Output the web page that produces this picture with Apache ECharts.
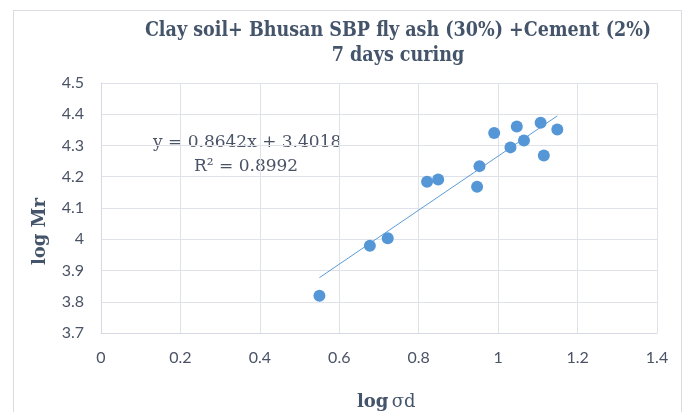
<!DOCTYPE html>
<html>
<head>
<meta charset="utf-8">
<script src="https://cdn.jsdelivr.net/npm/echarts@6/dist/echarts.min.js"></script>
<style>
  html, body { margin: 0; padding: 0; background: #fff; }
  #main { width: 686px; height: 412px; }
</style>
</head>
<body>
<div id="main"></div>
<script>
// log σd values (x)
const logSd = [0.550, 0.677, 0.722, 0.821, 0.849, 0.947, 0.953, 0.990, 1.031, 1.047, 1.065, 1.107, 1.115, 1.149];
// log Mr values (y)
const logMr = [3.819, 3.979, 4.003, 4.184, 4.191, 4.168, 4.234, 4.340, 4.294, 4.361, 4.316, 4.373, 4.268, 4.351];
// trendline from the shown equation
const slope = 0.8642;
const intercept = 3.4018;
const rSquared = 0.8992;

const xTicks = [0, 1.4, 0.2];   // min, max, interval
const yTicks = [3.7, 4.5, 0.1];

const points = logSd.map((x, i) => [x, logMr[i]]);
const xMin = Math.min(...logSd);
const xMax = Math.max(...logSd);
const trend = [[xMin, slope * xMin + intercept], [xMax, slope * xMax + intercept]];

const labelColor = '#4a5366';
const titleColor = '#44546a';
const gridColor = '#e0e2ea';
const serif = '"DejaVu Serif", serif';

const chart = echarts.init(document.getElementById('main'));
chart.setOption({
    animation: false,
    title: {
        text: 'Clay soil+ Bhusan SBP fly ash (30%) +Cement (2%)\n7 days curing',
        left: 393,
        top: 13,
        textAlign: 'center',
        textStyle: {
            fontFamily: '"DejaVu Serif Condensed", serif',
            fontWeight: 'bold',
            fontSize: 19.5,
            lineHeight: 25,
            color: titleColor
        }
    },
    grid: { left: 101, right: 29, top: 83, bottom: 79 },
    xAxis: {
        type: 'value',
        min: xTicks[0], max: xTicks[1], interval: xTicks[2],
        axisLine: { show: true, lineStyle: { color: '#d6d9e3' } },
        axisTick: { show: false },
        splitLine: { lineStyle: { color: gridColor } },
        axisLabel: { margin: 17, fontFamily: 'Lato', fontSize: 16, color: labelColor }
    },
    yAxis: {
        type: 'value',
        min: yTicks[0], max: yTicks[1], interval: yTicks[2],
        axisLine: { show: true, lineStyle: { color: '#d6d9e3' } },
        axisTick: { show: false },
        splitLine: { lineStyle: { color: gridColor } },
        axisLabel: {
            margin: 17, fontFamily: 'Lato', fontSize: 16, color: labelColor,
            formatter: v => String(+v.toFixed(1))
        }
    },
    graphic: [
        {
            type: 'rect',
            shape: { x: 13.5, y: 10.5, width: 668, height: 420 },
            style: { fill: 'none', stroke: '#d9dbe3', lineWidth: 1 },
            silent: true
        },
        {
            type: 'text', left: 153, top: 134,
            style: { text: 'y = ' + slope + 'x + ' + intercept, font: '17px ' + serif, fill: labelColor }
        },
        {
            type: 'text', left: 194, top: 158,
            style: { text: 'R\u00b2 = ' + rSquared, font: '17px ' + serif, fill: labelColor }
        },
        {
            type: 'text', left: 31, top: 198, rotation: Math.PI / 2,
            style: { text: 'log Mr', font: 'bold 18px ' + serif, fill: titleColor }
        },
        {
            type: 'text', left: 357, top: 393,
            style: {
                text: '{b|log} {n|\u03c3d}',
                rich: {
                    b: { font: 'bold 18px ' + serif, fill: titleColor, color: titleColor },
                    n: { font: '18px ' + serif, fill: titleColor, color: titleColor }
                }
            }
        }
    ],
    series: [
        {
            type: 'line',
            data: trend,
            showSymbol: false,
            lineStyle: { color: '#5b9bd5', width: 1 },
            z: 2
        },
        {
            type: 'scatter',
            data: points,
            symbolSize: 12,
            itemStyle: { color: '#5597d6', opacity: 1 },
            z: 3
        }
    ]
});
</script>
</body>
</html>
